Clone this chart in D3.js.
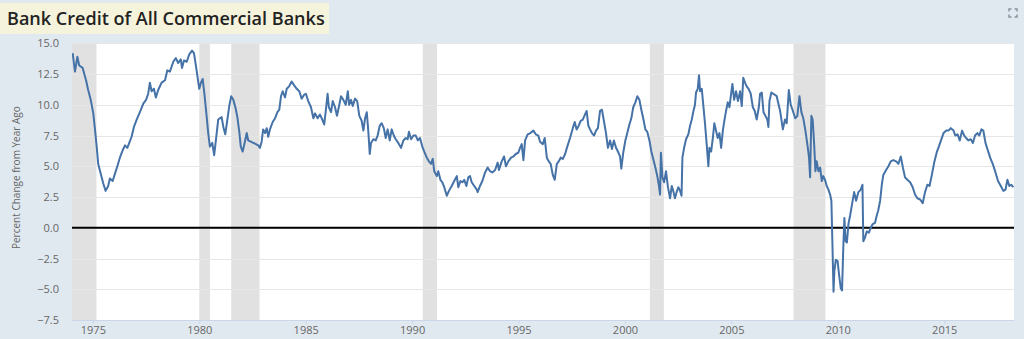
<!DOCTYPE html>
<html>
<head>
<meta charset="utf-8">
<script src="https://cdn.jsdelivr.net/npm/d3@7"></script>
<style>
  html, body { margin: 0; padding: 0; background: #e1e9f0; }
  svg { display: block; }
  text { font-family: "Open Sans", "DejaVu Sans", sans-serif; }
</style>
</head>
<body>
<svg id="chart" width="1024" height="339"></svg>
<script>
// Bank credit of all commercial banks, percent change from year ago
const years = [
  1974.05,1974.16,1974.27,1974.36,1974.52,1974.68,1974.78,1974.90,1975.02,1975.10,1975.18,1975.25,1975.37,1975.49,1975.60,1975.72,1975.80,1975.93,
  1976.04,1976.15,1976.27,1976.40,1976.51,1976.62,1976.71,1976.82,1976.93,1977.06,1977.21,1977.37,1977.50,1977.60,1977.68,1977.76,1977.87,1977.96,
  1978.07,1978.23,1978.39,1978.50,1978.62,1978.78,1978.90,1979.01,1979.13,1979.19,1979.28,1979.41,1979.53,1979.66,1979.75,1979.84,1979.94,
  1980.00,1980.08,1980.16,1980.24,1980.35,1980.42,1980.50,1980.61,1980.70,1980.78,1980.89,1981.05,1981.13,1981.22,1981.32,1981.41,1981.50,1981.60,
  1981.71,1981.79,1981.88,1981.95,1982.04,1982.13,1982.23,1982.30,1982.42,1982.54,1982.66,1982.77,1982.85,1982.93,1983.00,1983.09,1983.17,1983.24,
  1983.32,1983.45,1983.56,1983.67,1983.76,1983.84,1983.92,1984.03,1984.11,1984.22,1984.34,1984.45,1984.58,1984.70,1984.81,1984.92,1985.01,
  1985.12,1985.25,1985.36,1985.44,1985.56,1985.67,1985.78,1985.87,1985.95,1986.03,1986.09,1986.19,1986.27,1986.38,1986.47,1986.58,1986.66,1986.77,
  1986.88,1986.98,1987.04,1987.13,1987.21,1987.32,1987.42,1987.52,1987.63,1987.71,1987.79,1987.87,1987.94,1988.01,1988.07,1988.18,1988.29,1988.38,
  1988.48,1988.57,1988.67,1988.76,1988.85,1988.95,1989.04,1989.14,1989.23,1989.35,1989.48,1989.59,1989.70,1989.79,1989.85,1989.95,1990.06,1990.17,
  1990.27,1990.37,1990.48,1990.57,1990.69,1990.79,1990.89,1990.97,1991.04,1991.16,1991.23,1991.33,1991.42,1991.51,1991.63,1991.73,1991.86,1991.98,
  1992.10,1992.17,1992.27,1992.36,1992.45,1992.55,1992.64,1992.72,1992.80,1992.92,1993.04,1993.08,1993.19,1993.30,1993.43,1993.55,1993.66,1993.77,
  1993.90,1994.02,1994.08,1994.21,1994.32,1994.41,1994.52,1994.65,1994.76,1994.87,1994.99,1995.07,1995.15,1995.23,1995.31,1995.43,1995.56,1995.70,
  1995.81,1995.93,
  1996.01,1996.14,1996.23,1996.33,1996.42,1996.51,1996.61,1996.70,1996.80,1996.89,1996.98,1997.08,1997.19,1997.29,1997.42,1997.55,1997.64,1997.73,
  1997.83,1997.92,1998.02,1998.12,1998.20,1998.28,1998.36,1998.45,1998.55,1998.64,1998.73,1998.83,1998.92,1999.01,1999.11,1999.20,1999.30,1999.39,
  1999.48,1999.58,1999.67,1999.77,1999.83,1999.92,2000.02,2000.11,2000.21,2000.30,2000.39,2000.49,2000.58,2000.68,2000.77,2000.87,2000.96,2001.05,
  2001.15,2001.24,2001.33,2001.43,2001.52,2001.59,2001.65,2001.69,2001.76,2001.84,2001.93,2002.02,2002.12,2002.20,2002.27,2002.35,2002.43,2002.51,
  2002.59,2002.66,2002.70,2002.78,2002.87,2002.98,2003.06,2003.14,2003.22,2003.29,2003.34,2003.42,2003.48,2003.53,2003.61,2003.68,2003.76,2003.84,
  2003.92,2003.97,2004.05,2004.13,2004.20,2004.28,2004.36,2004.44,2004.52,2004.60,2004.67,2004.75,2004.83,2004.91,2004.99,2005.05,2005.13,2005.22,
  2005.31,2005.41,2005.49,2005.56,2005.64,2005.72,2005.81,2005.91,2006.01,2006.10,2006.19,2006.29,2006.35,2006.43,2006.51,2006.60,2006.69,2006.74,
  2006.79,2006.88,2006.97,
  2007.13,2007.29,2007.42,2007.52,2007.60,2007.70,2007.79,2007.89,2008.00,2008.10,2008.20,2008.29,2008.38,2008.48,2008.57,2008.65,2008.70,2008.76,
  2008.82,2008.89,2008.95,2009.01,2009.09,2009.17,2009.25,2009.32,2009.40,2009.48,2009.56,2009.64,2009.70,2009.75,2009.80,2009.84,2009.91,2009.99,
  2010.06,2010.14,2010.20,2010.26,2010.31,2010.37,2010.43,2010.50,2010.58,2010.67,2010.77,2010.86,2010.97,2011.08,2011.16,2011.20,2011.28,2011.36,
  2011.46,2011.55,2011.64,2011.75,2011.83,2011.90,2011.99,2012.07,2012.14,2012.27,2012.38,2012.49,2012.61,2012.74,2012.85,2012.96,2013.06,2013.16,
  2013.27,2013.40,2013.52,2013.63,2013.74,2013.87,2013.99,2014.10,2014.21,2014.31,2014.42,2014.53,2014.66,2014.75,2014.85,2014.97,2015.09,2015.20,
  2015.31,2015.44,2015.52,2015.63,2015.73,2015.84,2015.94,2016.03,2016.14,2016.25,2016.35,2016.45,2016.56,2016.65,2016.75,2016.84,2016.94,2017.03,
  2017.16,2017.28,2017.41,2017.53,2017.66,2017.78,2017.88,2017.97,2018.06,2018.15,2018.25
];

const pctChange = [
  14.2,12.7,13.9,13.2,13.0,12.0,11.2,10.4,9.3,8.0,6.6,5.2,4.4,3.6,3.0,3.4,4.0,3.8,
  4.4,5.0,5.7,6.3,6.7,6.5,6.9,7.4,8.2,8.8,9.4,10.1,10.4,10.9,11.8,11.1,11.3,10.6,
  11.2,11.8,12.0,12.8,12.7,13.5,13.8,13.4,13.7,13.0,13.6,13.5,14.1,14.4,14.2,13.2,12.0,
  11.3,11.8,12.1,10.9,9.0,7.7,6.6,6.9,5.9,7.1,8.8,9.0,8.2,7.6,8.8,9.9,10.7,10.4,
  9.7,9.0,7.8,6.6,6.2,6.9,7.7,7.1,7.0,6.9,6.8,6.7,6.5,7.0,8.0,7.7,8.1,7.4,
  8.0,8.6,8.9,9.4,9.6,10.7,11.1,10.6,11.3,11.5,11.9,11.6,11.3,11.1,10.5,10.8,10.9,
  10.3,9.8,8.9,9.3,8.9,9.2,8.8,8.4,9.6,10.9,9.8,9.4,10.3,9.8,9.1,10.0,10.7,10.4,
  10.0,11.1,10.0,10.4,9.9,10.5,10.3,9.1,8.7,7.9,8.9,9.4,7.9,6.0,6.9,7.2,7.1,7.5,
  8.3,8.5,8.1,7.3,8.0,7.1,8.0,7.5,7.2,6.9,6.5,7.1,7.3,7.2,7.8,7.2,7.5,7.5,
  7.1,7.3,6.6,6.2,5.7,5.4,5.2,5.6,4.6,4.2,4.6,3.9,3.7,3.3,2.6,3.0,3.4,3.8,
  4.2,3.3,3.8,3.7,3.9,3.4,4.1,4.2,3.7,3.4,3.1,2.9,3.4,3.8,4.5,4.9,4.6,4.5,
  4.7,5.3,4.7,5.4,5.8,5.0,5.4,5.7,5.8,6.0,6.1,6.5,6.8,5.5,7.1,7.6,7.7,7.9,
  7.6,7.5,
  7.0,6.8,7.3,5.7,5.4,5.2,4.3,3.9,5.2,5.4,5.7,5.6,6.0,6.6,7.3,8.1,8.6,8.0,
  8.3,8.7,8.8,9.2,9.5,8.3,8.0,7.7,7.5,7.9,8.1,9.5,9.6,8.7,7.7,6.5,7.1,6.4,
  7.1,6.5,6.2,5.8,4.8,6.1,7.1,7.7,8.4,8.9,9.8,10.2,10.7,10.4,9.6,8.8,8.0,7.8,
  7.1,6.2,5.6,4.9,4.2,3.5,2.7,6.1,4.1,3.7,4.6,3.3,2.4,3.4,3.0,2.4,2.9,3.3,
  3.0,2.6,5.7,6.5,7.2,7.6,8.3,8.8,9.5,10.0,11.0,11.3,12.4,11.1,11.3,10.0,8.5,6.8,
  5.0,6.5,6.2,7.3,8.5,7.9,7.3,7.7,6.5,7.9,8.7,9.5,10.2,9.8,10.9,11.7,10.4,11.1,
  10.3,11.1,9.9,12.2,11.8,11.5,11.3,10.9,9.8,9.5,8.8,9.8,10.9,11.0,9.4,9.1,8.8,8.2,
  10.3,11.0,10.9,
  10.7,9.5,8.0,8.8,8.5,11.2,10.0,9.5,8.9,9.1,10.7,9.4,8.9,7.9,6.8,5.7,4.1,9.1,
  8.8,6.8,4.6,5.4,4.6,4.9,3.8,4.2,3.9,3.4,3.1,2.7,2.2,-1.4,-5.2,-3.5,-2.6,-2.7,
  -3.8,-4.9,-5.1,-1.6,0.8,-1.1,-1.2,0.3,1.0,1.9,2.9,2.2,2.9,3.1,3.5,-1.1,-0.8,-0.3,
  -0.4,0.0,0.3,0.4,1.0,1.4,2.2,3.5,4.3,4.7,5.0,5.4,5.5,5.4,5.2,5.8,4.9,4.1,
  3.9,3.7,3.3,2.7,2.4,2.3,2.0,2.9,3.5,3.4,4.3,5.3,6.2,6.6,7.1,7.7,7.9,7.9,
  8.1,7.9,7.5,7.6,7.1,7.9,7.5,7.3,7.1,7.2,6.9,7.5,7.7,7.5,8.0,7.9,6.9,6.4,
  5.7,5.2,4.5,3.8,3.4,3.0,3.1,3.9,3.4,3.5,3.3
];

// NBER recession periods (decimal years)
const recessionStarts = [1973.83, 1980.00, 1981.50, 1990.50, 2001.17, 2007.92];
const recessionEnds   = [1975.17, 1980.50, 1982.83, 1991.17, 2001.83, 2009.42];

const yearTicks = [1975, 1980, 1985, 1990, 1995, 2000, 2005, 2010, 2015];
const valueTicks = [-7.5, -5.0, -2.5, 0.0, 2.5, 5.0, 7.5, 10.0, 12.5, 15.0];

const titleText = "Bank Credit of All Commercial Banks";
const yTitleText = "Percent Change from Year Ago";

const series = years.map((t, i) => ({ t, v: pctChange[i] }));

const svg = d3.select("#chart");
const W = 1024, H = 339;
const plot = { left: 72, right: 1014, top: 43.3, bottom: 320 };

const x = d3.scaleLinear().domain([1974.02, 2018.28]).range([plot.left, plot.right]);
const y = d3.scaleLinear().domain([-7.5, 15]).range([plot.bottom, plot.top]);

// page background
svg.append("rect").attr("width", W).attr("height", H).attr("fill", "#e1e9f0");

// title box
const titleG = svg.append("g");
const titleRect = titleG.append("rect")
  .attr("x", 0).attr("y", 3).attr("height", 31)
  .attr("fill", "#f5f3dc");
const title = titleG.append("text")
  .attr("x", 7).attr("y", 25)
  .attr("font-size", 19).attr("font-weight", 600)
  .attr("fill", "#222")
  .text(titleText);
const tw = title.node().getComputedTextLength();
title.attr("font-size", 19 * 318 / tw);
titleRect.attr("width", 7 + 318 + 4);

// plot background
svg.append("defs").append("clipPath").attr("id", "plotClip")
  .append("rect")
  .attr("x", plot.left).attr("y", plot.top)
  .attr("width", plot.right - plot.left).attr("height", plot.bottom - plot.top);

svg.append("rect")
  .attr("x", plot.left).attr("y", plot.top)
  .attr("width", plot.right - plot.left).attr("height", plot.bottom - plot.top)
  .attr("fill", "#ffffff");

// recession shading
svg.append("g").attr("clip-path", "url(#plotClip)")
  .selectAll("rect")
  .data(recessionStarts.map((s, i) => [s, recessionEnds[i]]))
  .join("rect")
  .attr("x", d => x(d[0]))
  .attr("width", d => x(d[1]) - x(d[0]))
  .attr("y", plot.top)
  .attr("height", plot.bottom - plot.top)
  .attr("fill", "#e1e1e1");

// horizontal grid
svg.append("g")
  .selectAll("line")
  .data(valueTicks.filter(v => v !== -7.5))
  .join("line")
  .attr("x1", plot.left).attr("x2", plot.right)
  .attr("y1", d => Math.round(y(d)) + 0.5).attr("y2", d => Math.round(y(d)) + 0.5)
  .attr("stroke", "#e6e6e6").attr("stroke-width", 1);

// y axis labels
const yAxis = d3.axisLeft(y).tickValues(valueTicks).tickFormat(d3.format(".1f")).tickSize(0).tickPadding(0);
const yg = svg.append("g").attr("transform", `translate(${plot.left - 13},0)`).call(yAxis);
yg.select(".domain").remove();
yg.selectAll("text").attr("font-size", 11).attr("fill", "#666")
  .attr("font-family", "'Open Sans', 'DejaVu Sans', sans-serif");

// y axis title
svg.append("text")
  .attr("transform", `translate(20,${(plot.top + plot.bottom) / 2 - 4}) rotate(-90)`)
  .attr("text-anchor", "middle")
  .attr("font-size", 10).attr("fill", "#666")
  .text(yTitleText);

// x axis
const xAxis = d3.axisBottom(x).tickValues(yearTicks).tickFormat(d3.format("d")).tickSize(4).tickPadding(2);
const xg = svg.append("g").attr("transform", `translate(0,${plot.bottom})`).call(xAxis);
xg.select(".domain").attr("stroke", "#ccd6eb").attr("d", `M${plot.left},0.5H${plot.right}`);
xg.selectAll(".tick line").attr("stroke", "#ccd6eb");
xg.selectAll("text").attr("font-size", 11).attr("fill", "#666")
  .attr("font-family", "'Open Sans', 'DejaVu Sans', sans-serif");

// zero line
svg.append("line")
  .attr("x1", plot.left).attr("x2", plot.right)
  .attr("y1", y(0)).attr("y2", y(0))
  .attr("stroke", "#000").attr("stroke-width", 2);

// data line
const line = d3.line().x(d => x(d.t)).y(d => y(d.v));
svg.append("path")
  .datum(series)
  .attr("clip-path", "url(#plotClip)")
  .attr("d", line)
  .attr("fill", "none")
  .attr("stroke", "#4572a7")
  .attr("stroke-width", 2)
  .attr("stroke-linejoin", "round");

// fullscreen icon
const icon = svg.append("g").attr("transform", "translate(1013,13)")
  .attr("fill", "none").attr("stroke", "#8a95a0").attr("stroke-width", 1.5);
const s = 4, g = 1.5;
icon.append("path").attr("d", `M${-s},${-g} V${-s} H${-g}`);
icon.append("path").attr("d", `M${g},${-s} H${s} V${-g}`);
icon.append("path").attr("d", `M${s},${g} V${s} H${g}`);
icon.append("path").attr("d", `M${-g},${s} H${-s} V${g}`);
</script>
</body>
</html>
